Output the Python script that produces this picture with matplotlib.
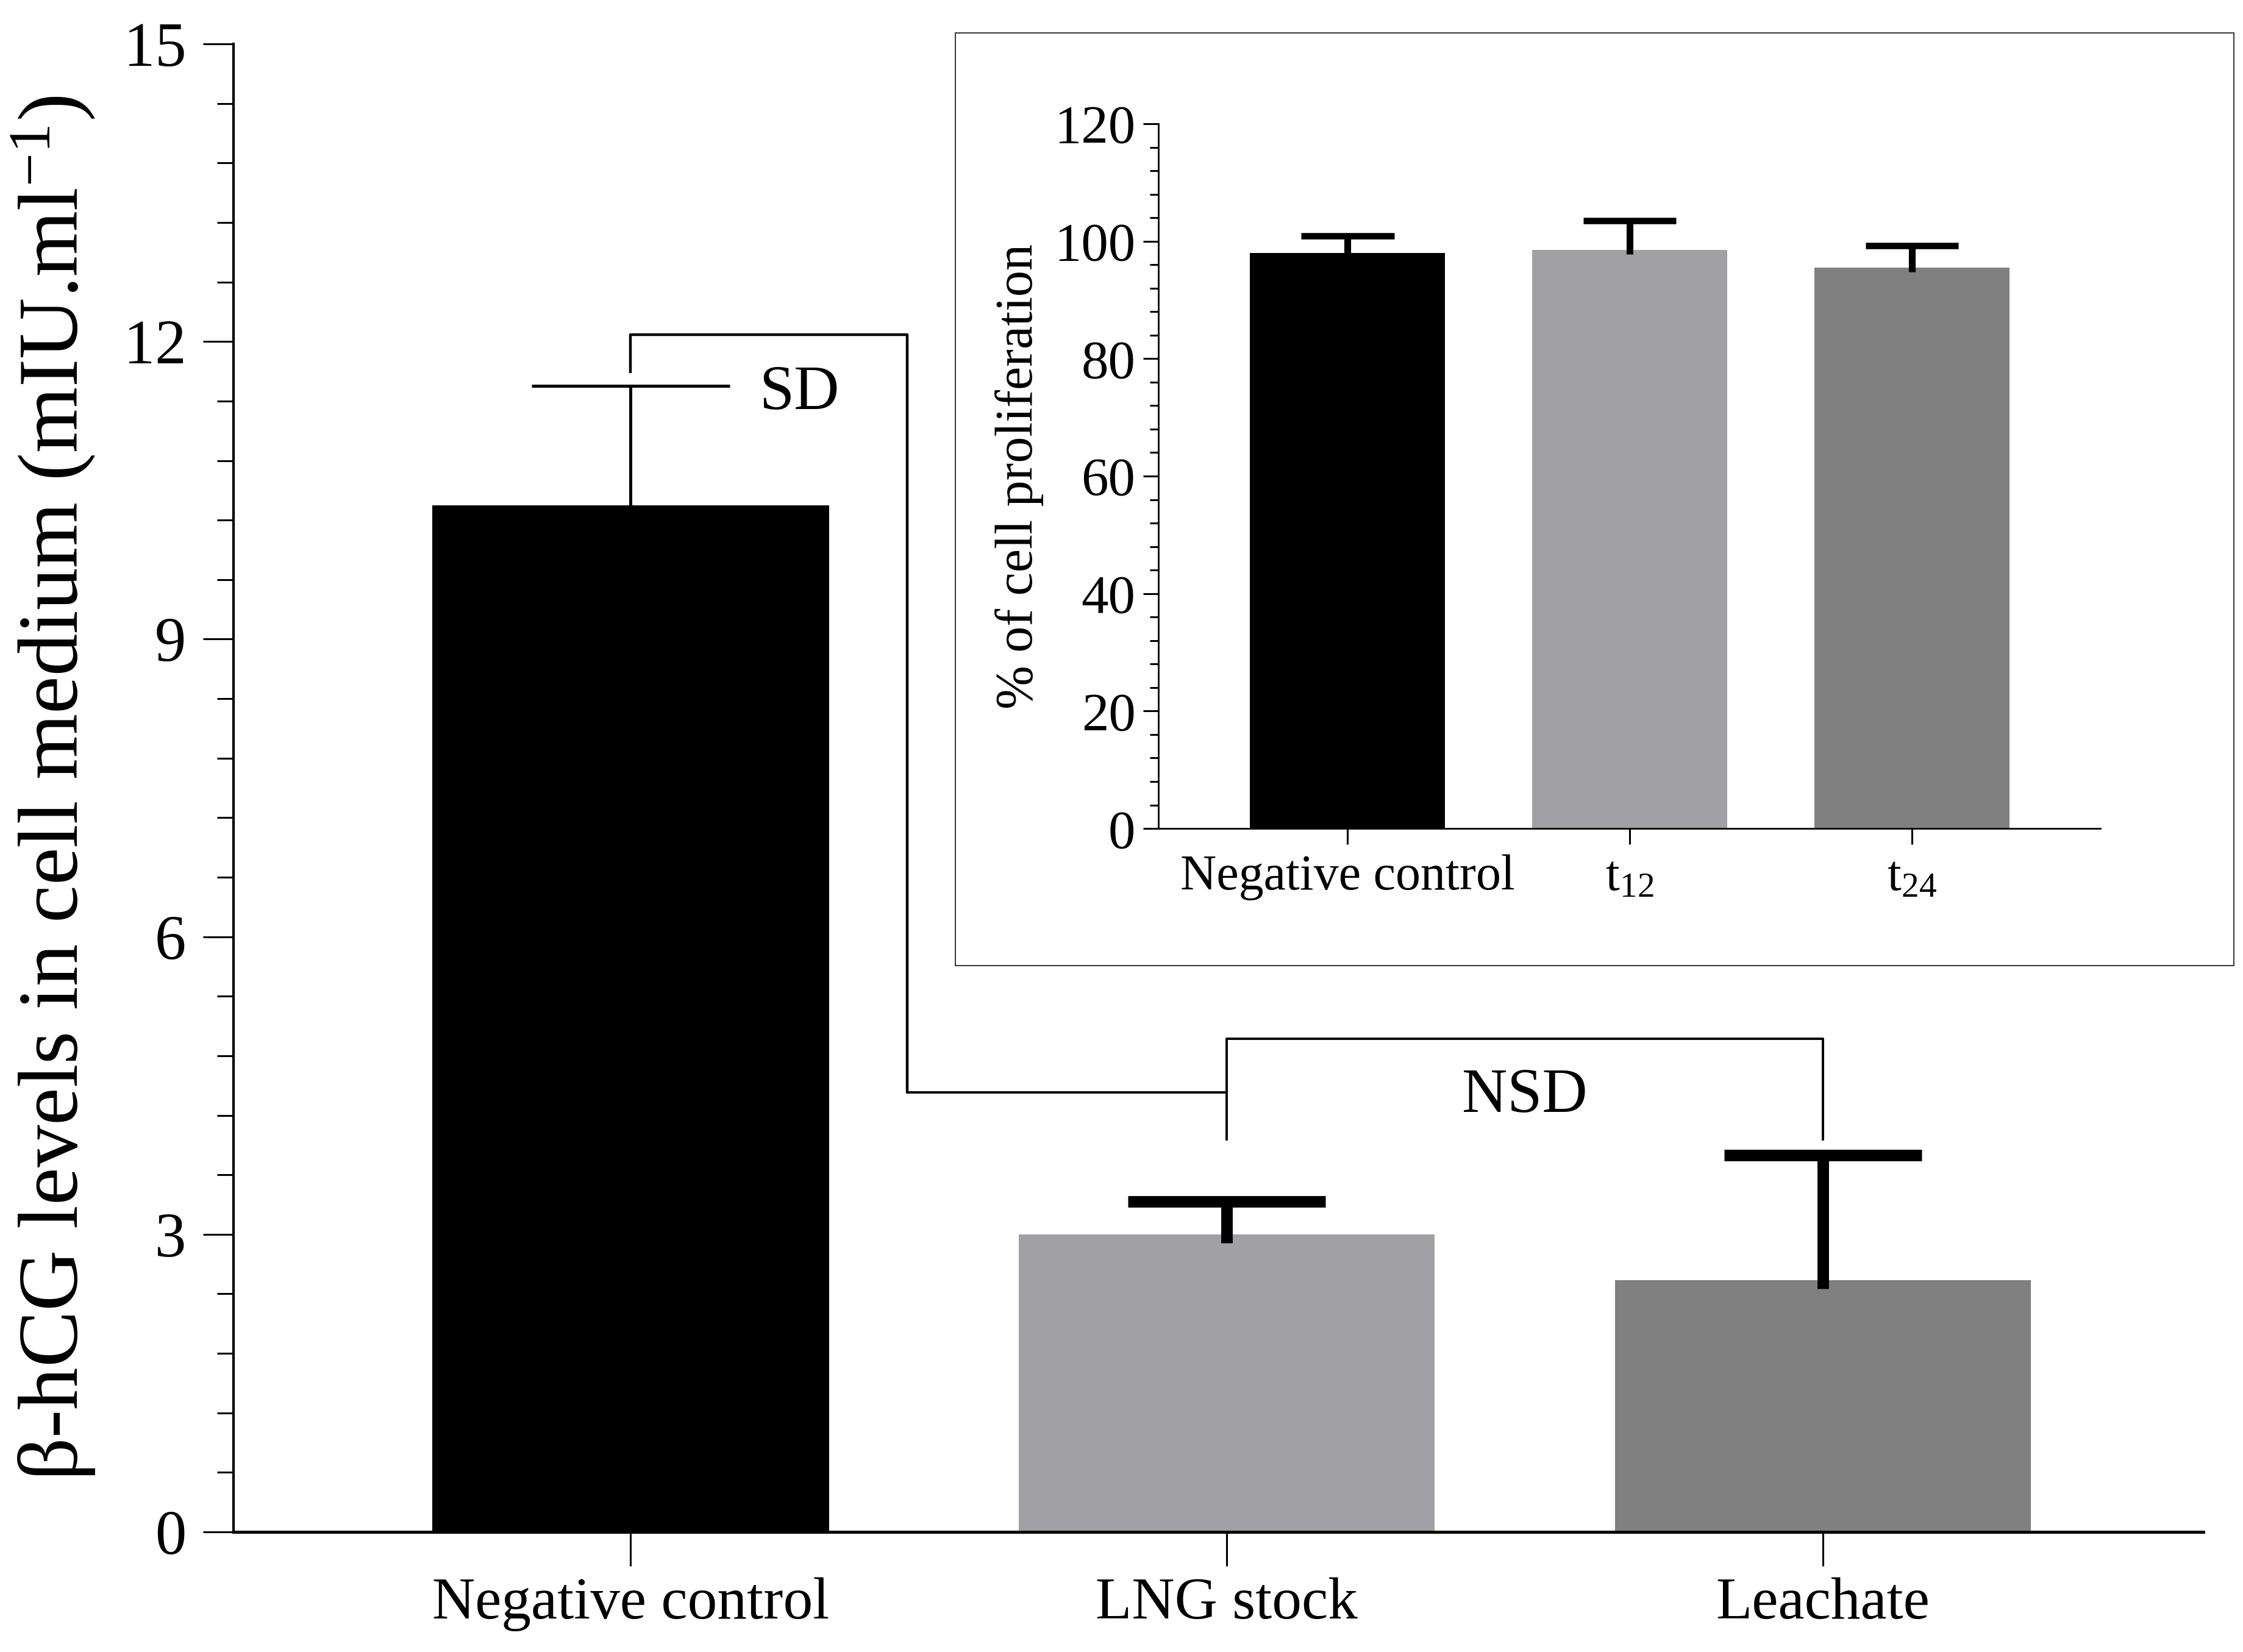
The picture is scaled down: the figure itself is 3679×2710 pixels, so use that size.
import matplotlib
matplotlib.use("Agg")
import matplotlib.pyplot as plt
import numpy as np
from matplotlib.patches import Rectangle
from matplotlib.ticker import MultipleLocator

plt.rcParams["font.family"] = ["Liberation Serif", "DejaVu Serif"]
plt.rcParams["mathtext.fontset"] = "custom"
plt.rcParams["mathtext.rm"] = "Liberation Serif"
plt.rcParams["mathtext.it"] = "Liberation Serif:italic"

# main panel: beta-hCG in cell medium (mIU/ml)
groups = ["Negative control", "LNG stock", "Leachate"]
hcg_mean = [10.35, 3.0, 2.54]
hcg_sd = [1.2, 0.33, 1.26]

# inset: % of cell proliferation
inset_groups = ["Negative control", r"t$_{\mathregular{12}}$", r"t$_{\mathregular{24}}$"]
prolif_mean = [98.0, 98.5, 95.5]
prolif_sd = [2.9, 5.0, 3.7]

# significance brackets (data units of the main panel)
sd_bracket_y = 12.07
nsd_bracket_y = 4.97
link_y = 4.43

bar_colors = ["#000000", "#a1a0a4", "#808080"]

fig = plt.figure(figsize=(18.4, 13.55), dpi=200)

# ---------------- main axes ----------------
ax = fig.add_axes([0.1041, 0.0727, 0.8779, 0.9007])
x = np.arange(len(groups))
mean = np.array(hcg_mean)
sd = np.array(hcg_sd)
ax.bar(x, mean, width=[0.666, 0.697, 0.697], color=bar_colors, zorder=2)

err_lw = [1.8, 6.8, 6.8]
ax.vlines(x, mean - 0.09, mean + sd, colors="k", linewidths=err_lw, zorder=3)
ax.hlines(mean + sd, x - 0.166, x + 0.166, colors="k", linewidths=err_lw, zorder=3)

# SD bracket: negative control vs treated groups
xm = 0.464
ax.plot([0, 0, xm, xm], [mean[0] + sd[0] + 0.13, sd_bracket_y, sd_bracket_y, link_y],
        color="k", lw=1.6, solid_capstyle="butt", zorder=3)
ax.plot([xm, 1], [link_y, link_y], color="k", lw=1.4, zorder=3)
ax.text(0.283, 11.32, "SD", fontsize=37, ha="center", va="baseline")

# NSD bracket: LNG stock vs leachate
ax.plot([1, 1, 2, 2], [3.96, nsd_bracket_y, nsd_bracket_y, 3.96],
        color="k", lw=1.4, zorder=3)
ax.text(1.5, 4.235, "NSD", fontsize=37, ha="center", va="baseline")

ax.set_xlim(-0.666, 2.638)
ax.set_ylim(0, 15)
ax.set_xticks(x, groups)
ax.set_yticks(np.arange(0, 16, 3))
ax.yaxis.set_minor_locator(MultipleLocator(0.6))
ax.tick_params(axis="y", which="major", length=18, width=1.1, pad=10, labelsize=37)
ax.tick_params(axis="y", which="minor", length=9.7, width=1.1)
ax.tick_params(axis="x", which="major", length=20, width=1.1, pad=7, labelsize=35)
for s in ("top", "right"):
    ax.spines[s].set_visible(False)
ax.spines["left"].set_linewidth(1.5)
ax.spines["bottom"].set_linewidth(1.8)
ax.set_ylabel(r"β-hCG levels in cell medium (mIU.ml$^{\mathregular{-1}}$)", fontsize=50)
ax.yaxis.set_label_coords(-0.0690, 0.5)

# ---------------- inset ----------------
frame = Rectangle((0.4258, 0.4155), 0.5699, 0.5646, transform=fig.transFigure,
                  facecolor="white", edgecolor="#333333", lw=0.7, zorder=1)
fig.add_artist(frame)

ins = fig.add_axes([0.5163, 0.4985, 0.4198, 0.4266], zorder=2)
ins.patch.set_alpha(0)
xi = np.arange(len(inset_groups))
pm = np.array(prolif_mean)
ps = np.array(prolif_sd)
ins.bar(xi, pm, width=0.69, color=bar_colors, zorder=2)
ins.vlines(xi, pm - 0.7, pm + ps, colors="k", linewidths=4, zorder=3)
ins.hlines(pm + ps, xi - 0.165, xi + 0.165, colors="k", linewidths=3.8, zorder=3)

ins.set_xlim(-0.67, 2.667)
ins.set_ylim(0, 120)
ins.set_xticks(xi, inset_groups)
ins.set_yticks(np.arange(0, 121, 20))
ins.yaxis.set_minor_locator(MultipleLocator(4))
ins.tick_params(axis="y", which="major", length=9, width=1.1, pad=4.5, labelsize=32)
ins.tick_params(axis="y", which="minor", length=5, width=1.1)
ins.tick_params(axis="x", which="major", length=9.4, width=1.1, pad=6, labelsize=29.5)
for s in ("top", "right"):
    ins.spines[s].set_visible(False)
ins.spines["left"].set_linewidth(1.0)
ins.spines["bottom"].set_linewidth(1.0)
ins.set_ylabel("% of cell proliferation", fontsize=31)
ins.yaxis.set_label_coords(-0.1217, 0.5)

fig.savefig("out.png", dpi=200)
